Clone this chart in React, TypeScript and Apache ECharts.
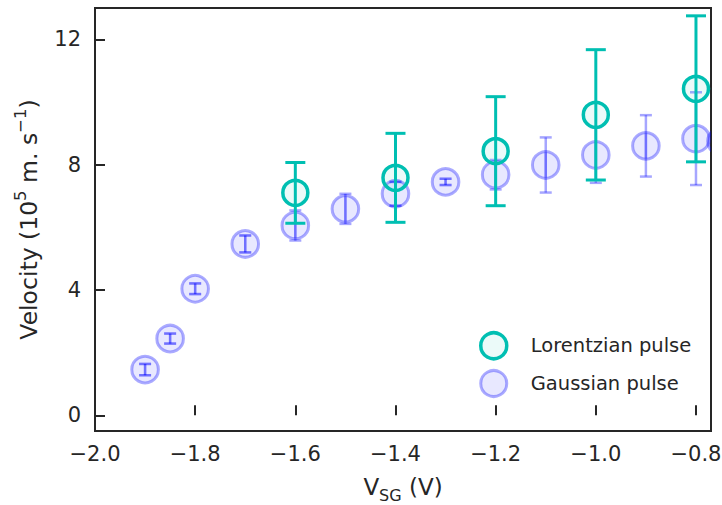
import React, { useEffect, useRef } from "react";
import * as echarts from "echarts";

const xTicks = [-2.0, -1.8, -1.6, -1.4, -1.2, -1.0, -0.8];
const yTicks = [0, 4, 8, 12];

const gaussX = [-1.9, -1.85, -1.8, -1.7, -1.6, -1.5, -1.4, -1.3, -1.2, -1.1, -1.0, -0.9, -0.8, -0.75];
const gaussY = [1.46, 2.45, 4.04, 5.47, 6.06, 6.59, 7.07, 7.45, 7.68, 7.99, 8.31, 8.6, 8.83, 8.75];
const gaussErr = [0.18, 0.16, 0.17, 0.27, 0.48, 0.48, 0.38, 0.1, 0.47, 0.88, 0.89, 0.98, 1.48, 1.5];

const lorX = [-1.6, -1.4, -1.2, -1.0, -0.8];
const lorY = [7.1, 7.58, 8.43, 9.59, 10.42];
const lorErr = [0.97, 1.42, 1.74, 2.08, 2.33];

const INK = "#262626";
const FONT = "DejaVu Sans";
const TEAL = "#00BFB2";
const TEAL_FILL = "rgba(0,191,178,0.08)";
const BLUE_EDGE = "rgba(0,0,255,0.33)";
const BLUE_FILL = "rgba(0,0,255,0.09)";
const BLUE_BAR = "rgba(0,0,255,0.35)";
const BLUE_BAR_IN = "rgba(0,0,255,0.25)";

const fmtMinus = (v: number, d: number) => (v < 0 ? "\u2212" : "") + Math.abs(v).toFixed(d);

function makeRender(opts: {
  r: number;
  fill: string;
  edge: string;
  edgeW: number;
  bar: string;
  barW: number;
  cap: number;
  inner?: string;
}) {
  return (params: any, api: any) => {
    const x = api.value(0);
    const y = api.value(1);
    const e = api.value(2);
    const c = api.coord([x, y]);
    const t = api.coord([x, y + e]);
    const b = api.coord([x, y - e]);
    const h = opts.cap / 2;
    const children: any[] = [
      {
        type: "circle",
        shape: { cx: c[0], cy: c[1], r: opts.r },
        style: { fill: opts.fill, stroke: opts.edge, lineWidth: opts.edgeW },
      },
      {
        type: "line",
        shape: { x1: c[0], y1: t[1], x2: c[0], y2: b[1] },
        style: { stroke: opts.bar, lineWidth: opts.barW },
      },
      {
        type: "line",
        shape: { x1: c[0] - h, y1: t[1], x2: c[0] + h, y2: t[1] },
        style: { stroke: opts.bar, lineWidth: opts.barW },
      },
      {
        type: "line",
        shape: { x1: c[0] - h, y1: b[1], x2: c[0] + h, y2: b[1] },
        style: { stroke: opts.bar, lineWidth: opts.barW },
      },
    ];
    if (opts.inner) {
      const lim = opts.r - 1;
      const y1 = Math.max(t[1], c[1] - lim);
      const y2 = Math.min(b[1], c[1] + lim);
      children.push({
        type: "line",
        shape: { x1: c[0], y1, x2: c[0], y2 },
        style: { stroke: opts.inner, lineWidth: opts.barW },
      });
      if (c[1] - t[1] < lim) {
        children.push({
          type: "line",
          shape: { x1: c[0] - h, y1: t[1], x2: c[0] + h, y2: t[1] },
          style: { stroke: opts.inner, lineWidth: opts.barW },
        });
        children.push({
          type: "line",
          shape: { x1: c[0] - h, y1: b[1], x2: c[0] + h, y2: b[1] },
          style: { stroke: opts.inner, lineWidth: opts.barW },
        });
      }
    }
    return { type: "group", children };
  };
}

export default function App() {
  const ref = useRef<HTMLDivElement>(null);
  useEffect(() => {
    if (!ref.current) return;
    const chart = echarts.init(ref.current, null, { renderer: "svg" });
    const gaussData = gaussX.map((x, i) => [x, gaussY[i], gaussErr[i]]);
    const lorData = lorX.map((x, i) => [x, lorY[i], lorErr[i]]);
    chart.setOption({
      animation: false,
      backgroundColor: "#ffffff",
      textStyle: { fontFamily: FONT, color: INK },
      grid: {
        left: 95,
        top: 8,
        right: 11,
        bottom: 74,
        outerBoundsMode: "none",
        containLabel: false,
        show: true,
        borderColor: INK,
        borderWidth: 2,
        backgroundColor: "transparent",
      },
      legend: {
        orient: "vertical",
        left: 479,
        top: 331,
        padding: 0,
        itemWidth: 64,
        itemHeight: 26,
        itemGap: 8.5,
        selectedMode: false,
        textStyle: { fontFamily: FONT, fontSize: 19.5, color: INK },
        data: [
          {
            name: "Lorentzian pulse",
            icon: "circle",
            itemStyle: { color: TEAL_FILL, borderColor: TEAL, borderWidth: 3.5 },
          },
          {
            name: "Gaussian pulse",
            icon: "circle",
            itemStyle: { color: BLUE_FILL, borderColor: BLUE_EDGE, borderWidth: 3 },
          },
        ],
      },
      xAxis: {
        type: "value",
        min: -2.0,
        max: -0.77,
        axisLine: { show: false },
        splitLine: { show: false },
        axisTick: {
          show: true,
          inside: true,
          length: 10,
          lineStyle: { color: INK, width: 2 },
          customValues: xTicks,
        },
        axisLabel: {
          customValues: xTicks,
          margin: 12,
          fontFamily: FONT,
          fontSize: 21,
          color: INK,
          formatter: (v: number) => fmtMinus(v, 1),
        },
        name: "V{sub|SG} (V)",
        nameLocation: "middle",
        nameGap: 44,
        nameTextStyle: {
          fontFamily: FONT,
          fontSize: 23,
          color: INK,
          rich: {
            sub: { fontFamily: FONT, fontSize: 16, color: INK, verticalAlign: "bottom", padding: [0, 0, -5, 0] },
          },
        },
      },
      yAxis: {
        type: "value",
        min: -0.5,
        max: 13,
        axisLine: { show: false },
        splitLine: { show: false },
        axisTick: {
          show: true,
          inside: true,
          length: 10,
          lineStyle: { color: INK, width: 2 },
          customValues: yTicks,
        },
        axisLabel: {
          customValues: yTicks,
          margin: 14,
          fontFamily: FONT,
          fontSize: 21,
          color: INK,
          formatter: (v: number) => fmtMinus(v, 0),
        },
        name: "Velocity (10{sup|5} m. s{sup|\u22121})",
        nameLocation: "middle",
        nameRotate: 90,
        nameGap: 54,
        nameTextStyle: {
          fontFamily: FONT,
          fontSize: 23.5,
          color: INK,
          rich: {
            sup: { fontFamily: FONT, fontSize: 16.5, color: INK, verticalAlign: "top", padding: [-5, 0, 0, 0] },
          },
        },
      },
      series: [
        {
          name: "Gaussian pulse",
          type: "custom",
          clip: true,
          itemStyle: { color: BLUE_FILL, borderColor: BLUE_EDGE },
          encode: { x: 0, y: 1 },
          data: gaussData,
          renderItem: makeRender({
            r: 13.3,
            fill: BLUE_FILL,
            edge: BLUE_EDGE,
            edgeW: 3,
            bar: BLUE_BAR,
            barW: 2.5,
            cap: 12,
            inner: BLUE_BAR_IN,
          }),
        },
        {
          name: "Lorentzian pulse",
          type: "custom",
          clip: true,
          itemStyle: { color: TEAL_FILL, borderColor: TEAL },
          encode: { x: 0, y: 1 },
          data: lorData,
          renderItem: makeRender({
            r: 12.5,
            fill: TEAL_FILL,
            edge: TEAL,
            edgeW: 3.5,
            bar: TEAL,
            barW: 3,
            cap: 20,
          }),
        },
      ],
    });
    return () => chart.dispose();
  }, []);
  return (
    <div
      ref={ref}
      style={{ position: "fixed", left: 0, top: 0, width: 722, height: 505 }}
    />
  );
}
